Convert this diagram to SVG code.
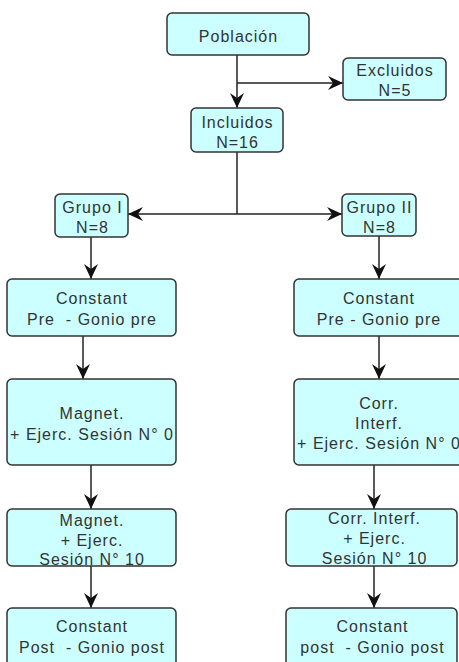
<svg xmlns="http://www.w3.org/2000/svg" width="459" height="662" viewBox="0 0 459 662">
<defs>
<marker id="arr" markerUnits="userSpaceOnUse" viewBox="0 0 15 14" refX="15" refY="7" markerWidth="15" markerHeight="14" orient="auto">
<path d="M0,0 L15,7 L0,14 L5,7 Z" fill="#111"/>
</marker>
<style>
.box{fill:#ccffff;stroke:#333;stroke-width:1.5}
.t{font-family:"Liberation Sans",Arial,sans-serif;font-size:16px;letter-spacing:1px;fill:#333;text-anchor:middle;white-space:pre}
.c{stroke:#222;stroke-width:1.5;fill:none}
</style>
</defs>
<rect width="459" height="662" fill="#fff"/>
<g id="connectors">
<line class="c" x1="237" y1="55" x2="237" y2="108" marker-end="url(#arr)"/>
<line class="c" x1="237" y1="83" x2="343" y2="83" marker-end="url(#arr)"/>
<line class="c" x1="237" y1="152" x2="237" y2="214"/>
<line class="c" x1="237" y1="214" x2="128" y2="214" marker-end="url(#arr)"/>
<line class="c" x1="237" y1="214" x2="342" y2="214" marker-end="url(#arr)"/>
<line class="c" x1="91" y1="237" x2="91" y2="279" marker-end="url(#arr)"/>
<line class="c" x1="379" y1="236" x2="379" y2="279" marker-end="url(#arr)"/>
<line class="c" x1="83" y1="336" x2="83" y2="379" marker-end="url(#arr)"/>
<line class="c" x1="379" y1="336" x2="379" y2="379" marker-end="url(#arr)"/>
<line class="c" x1="91" y1="465" x2="91" y2="509" marker-end="url(#arr)"/>
<line class="c" x1="374" y1="465" x2="374" y2="509" marker-end="url(#arr)"/>
<line class="c" x1="91" y1="566" x2="91" y2="608" marker-end="url(#arr)"/>
<line class="c" x1="374" y1="566" x2="374" y2="608" marker-end="url(#arr)"/>
</g>
<g id="poblacion">
<rect class="box" x="167" y="13" width="142" height="42" rx="5"/>
<text class="t" x="238.5" y="42">Población</text>
</g>
<g id="excluidos">
<rect class="box" x="343" y="58" width="103" height="42" rx="5"/>
<text class="t" x="395" y="76">Excluidos</text>
<text class="t" x="395" y="96">N=5</text>
</g>
<g id="incluidos">
<rect class="box" x="191" y="108" width="92" height="44" rx="5"/>
<text class="t" x="237.5" y="128">Incluidos</text>
<text class="t" x="237.5" y="148">N=16</text>
</g>
<g id="grupo1">
<rect class="box" x="55" y="194" width="73" height="43" rx="5"/>
<text class="t" x="92.5" y="213">Grupo I</text>
<text class="t" x="92.5" y="233">N=8</text>
</g>
<g id="grupo2">
<rect class="box" x="342" y="194" width="74" height="42" rx="5"/>
<text class="t" x="379.5" y="213">Grupo II</text>
<text class="t" x="379.5" y="233">N=8</text>
</g>
<g id="pre1">
<rect class="box" x="7" y="279" width="169" height="57" rx="5"/>
<text class="t" x="92" y="304">Constant</text>
<text class="t" x="92" y="325">Pre  - Gonio pre</text>
</g>
<g id="pre2">
<rect class="box" x="294" y="279" width="169" height="57" rx="5"/>
<text class="t" x="379" y="304">Constant</text>
<text class="t" x="379" y="325">Pre - Gonio pre</text>
</g>
<g id="magnet0">
<rect class="box" x="7" y="379" width="169" height="86" rx="5"/>
<text class="t" x="92" y="419">Magnet.</text>
<text class="t" x="92" y="440">+ Ejerc. Sesión N° 0</text>
</g>
<g id="corr0">
<rect class="box" x="294" y="379" width="169" height="86" rx="5"/>
<text class="t" x="379" y="409">Corr.</text>
<text class="t" x="379" y="429">Interf.</text>
<text class="t" x="379" y="449">+ Ejerc. Sesión N° 0</text>
</g>
<g id="magnet10">
<rect class="box" x="7" y="509" width="169" height="57" rx="5"/>
<text class="t" x="92" y="526">Magnet.</text>
<text class="t" x="92" y="545.5">+ Ejerc.</text>
<text class="t" x="92" y="565">Sesión N° 10</text>
</g>
<g id="corr10">
<rect class="box" x="286" y="509" width="171" height="57" rx="5"/>
<text class="t" x="374.5" y="524">Corr. Interf.</text>
<text class="t" x="374.5" y="544">+ Ejerc.</text>
<text class="t" x="374.5" y="564">Sesión N° 10</text>
</g>
<g id="post1">
<rect class="box" x="7" y="608" width="169" height="64" rx="5"/>
<text class="t" x="92" y="632">Constant</text>
<text class="t" x="92" y="653">Post  - Gonio post</text>
</g>
<g id="post2">
<rect class="box" x="286" y="608" width="171" height="64" rx="5"/>
<text class="t" x="372.5" y="632">Constant</text>
<text class="t" x="372.5" y="653">post  - Gonio post</text>
</g>
</svg>
